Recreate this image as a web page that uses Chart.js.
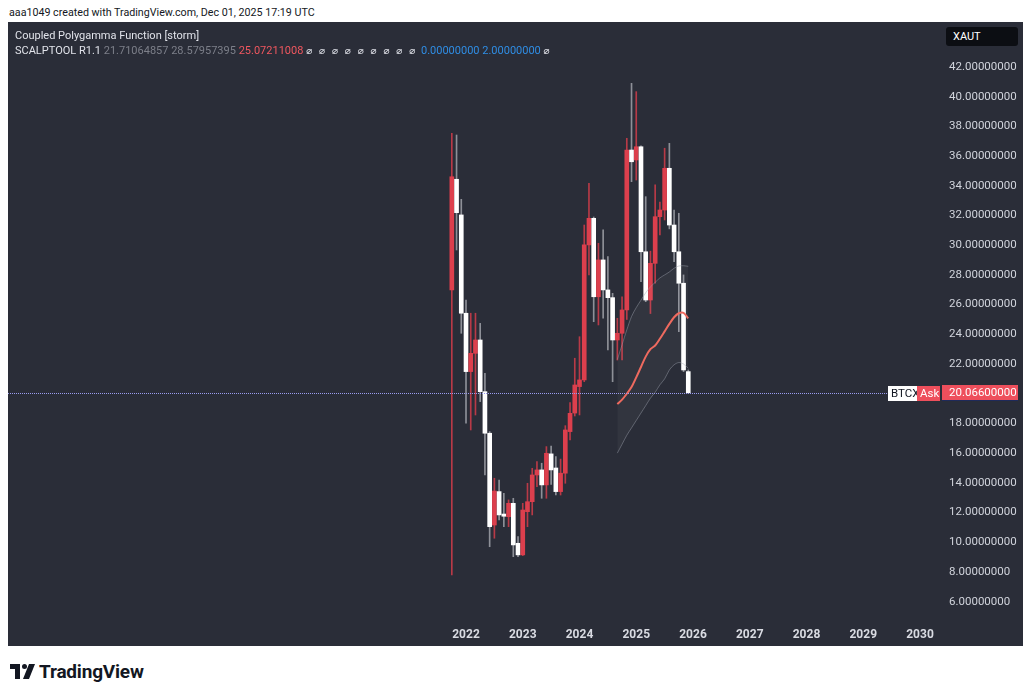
<!DOCTYPE html>
<html lang="en">
  <head>
    <meta charset="UTF-8" />
    <meta name="viewport" content="width=device-width, initial-scale=1.0" />
    <script src="https://cdn.jsdelivr.net/npm/chart.js@4.4.0/dist/chart.umd.min.js"></script>
    <title>XAUT monthly</title>
    <style>
      body {
        margin: 0;
        padding: 0;
        background: #ffffff;
        width: 1032px;
        height: 697px;
        position: relative;
        overflow: hidden;
        font-family: Roboto, 'Liberation Sans', sans-serif;
      }

      .header {
        position: absolute;
        left: 9px;
        top: 6px;
        font-size: 10.7px;
        color: #131722;
      }

      .panel {
        position: absolute;
        left: 8px;
        top: 22px;
        width: 1015px;
        height: 624px;
        background: #2a2d38;
      }

      .legend {
        position: absolute;
        left: 7px;
        top: 6px;
        font-size: 11px;
        line-height: 15px;
        color: #e1e3ea;
        white-space: nowrap;
      }
      .legend .g { color: #7c7f89; }
      .legend .r { color: #f0575f; }
      .legend .b { color: #2f8de4; }
      .legend .o {
        display: inline-block;
        width: 12.9px;
        font-family: 'DejaVu Sans', sans-serif;
        font-size: 10px;
      }
      .legend .o.e { width: 9px; }

      .symbol {
        position: absolute;
        left: 938px;
        top: 5px;
        width: 72px;
        height: 19px;
        line-height: 19px;
        border-radius: 3px;
        background: #0c0e13;
        color: #ffffff;
        font-size: 11px;
        padding-left: 7px;
        box-sizing: border-box;
      }

      .footer {
        position: absolute;
        left: 10px;
        top: 661px;
        height: 20px;
        display: flex;
        align-items: center;
        font-size: 19px;
        font-weight: bold;
        color: #131722;
        letter-spacing: -0.2px;
      }
      .footer svg { margin-right: 3px; }
    </style>
  </head>
  <body>
    <div class="header">aaa1049 created with TradingView.com, Dec 01, 2025 17:19 UTC</div>
    <div class="panel">
      <canvas id="chart" width="1015" height="624"></canvas>
      <div class="legend">
        <div>Coupled Polygamma Function [storm]</div>
        <div>SCALPTOOL R1.1 <span class="g">21.71064857</span> <span class="g">28.57957395</span>
          <span class="r">25.07211008</span>
          <span class="o">⌀</span><span class="o">⌀</span><span class="o">⌀</span><span class="o">⌀</span><span class="o">⌀</span><span class="o">⌀</span><span class="o">⌀</span><span class="o">⌀</span><span class="o e">⌀</span>
          <span class="b">0.00000000</span> <span class="b">2.00000000</span> <span class="o e">⌀</span></div>
      </div>
      <div class="symbol">XAUT</div>
    </div>
    <div class="footer">
      <svg width="26" height="15" viewBox="0 0 26 15">
        <path d="M0 0h10v15h-5v-10h-5z" fill="#131722" />
        <circle cx="14.5" cy="2.5" r="2.5" fill="#131722" />
        <path d="M19 0h6l-6 15h-6z" fill="#131722" />
      </svg>
      TradingView
    </div>
    <script>
      // monthly candles, Oct 2021 .. Dec 2025
      const months = [
        '2021-10', '2021-11', '2021-12',
        '2022-01', '2022-02', '2022-03', '2022-04', '2022-05', '2022-06',
        '2022-07', '2022-08', '2022-09', '2022-10', '2022-11', '2022-12',
        '2023-01', '2023-02', '2023-03', '2023-04', '2023-05', '2023-06',
        '2023-07', '2023-08', '2023-09', '2023-10', '2023-11', '2023-12',
        '2024-01', '2024-02', '2024-03', '2024-04', '2024-05', '2024-06',
        '2024-07', '2024-08', '2024-09', '2024-10', '2024-11', '2024-12',
        '2025-01', '2025-02', '2025-03', '2025-04', '2025-05', '2025-06',
        '2025-07', '2025-08', '2025-09', '2025-10', '2025-11', '2025-12',
      ]
      const open = [
        26.99, 34.44, 32.04,
        25.42, 21.49, 22.72, 23.62, 20.14, 17.34, 11.16, 13.41, 11.9, 11.72, 12.62, 9.93,
        9.15, 12.06, 12.73, 14.53, 14.87, 13.86, 15.95, 15.0, 13.41, 14.65, 17.45, 18.7,
        20.48, 20.93, 30.02, 31.81, 26.53, 29.01, 26.99, 26.47, 23.62, 24.07, 25.64, 36.41,
        35.74, 36.63, 29.56, 26.31, 28.78, 31.92, 32.37, 35.18, 31.36, 29.56, 27.44, 21.49,
      ]
      const high = [
        37.54, 37.42, 33.09,
        26.31, 25.42, 25.42, 24.74, 21.38, 17.45, 14.31, 14.19, 13.3, 12.85, 12.96, 10.38,
        12.62, 13.97, 14.98, 15.43, 15.32, 16.44, 16.48, 15.76, 15.6, 17.85, 19.4, 22.39,
        23.84, 31.36, 34.17, 31.9, 30.13, 31.03, 29.23, 26.76, 25.08, 26.53, 37.2, 40.9,
        40.34, 36.7, 33.27, 29.6, 34.06, 32.9, 36.53, 36.86, 32.37, 32.15, 28.0, 21.6,
      ]
      const low = [
        7.8, 29.68, 24.07,
        18.01, 17.56, 18.57, 19.47, 14.53, 9.7, 10.27, 11.5, 11.05, 11.05, 9.03, 9.03,
        9.1, 11.05, 11.84, 13.74, 12.96, 12.96, 13.9, 13.18, 13.18, 13.97, 16.89, 18.5,
        18.57, 20.81, 28.0, 24.85, 24.63, 25.08, 22.95, 20.81, 22.27, 22.27, 25.0, 34.28,
        34.39, 27.54, 26.2, 25.4, 27.44, 30.7, 31.7, 31.1, 28.9, 24.18, 21.49, 20.03,
      ]
      const close = [
        34.61, 32.19, 25.42,
        21.49, 22.72, 23.62, 20.14, 17.34, 11.05, 13.45, 11.84, 11.75, 12.62, 9.82, 9.15,
        12.17, 12.73, 14.53, 14.87, 13.86, 15.99, 14.87, 13.41, 14.65, 17.56, 18.68, 20.59,
        20.93, 30.02, 31.81, 26.53, 29.01, 26.99, 26.47, 23.62, 24.07, 25.64, 36.41, 35.62,
        36.63, 29.56, 26.31, 28.78, 31.92, 32.37, 35.18, 31.36, 29.56, 27.44, 21.6, 20.066,
      ]

      // SCALPTOOL bands, Sep 2024 .. Dec 2025
      const bandStart = '2024-09'
      const midLine = [19.3, 19.6, 20.0, 20.45, 21.1, 21.8, 22.5, 23.0, 23.25, 23.7, 24.2, 24.7, 25.15, 25.42, 25.45, 25.07]
      const upperBand = [22.3, 23.3, 24.3, 25.2, 25.8, 26.3, 26.8, 27.2, 27.5, 27.8, 28.0, 28.2, 28.45, 28.6, 28.62, 28.58]
      const lowerBand = [16.0, 16.6, 17.2, 17.7, 18.2, 18.7, 19.2, 19.7, 20.1, 20.6, 21.0, 21.6, 21.95, 22.1, 22.0, 21.71]

      const years = ['2022', '2023', '2024', '2025', '2026', '2027', '2028', '2029', '2030']
      const priceTicks = [6, 8, 10, 12, 14, 16, 18, 20, 22, 24, 26, 28, 30, 32, 34, 36, 38, 40, 42]
      const lastPrice = 20.066

      const UP = '#dc3f4d'
      const DOWN = '#ffffff'

      // month index relative to Jan 2022
      const monthIndex = (s) => {
        const [y, m] = s.split('-').map(Number)
        return (y - 2022) * 12 + (m - 1)
      }

      const xs = months.map(monthIndex)
      const isUp = close.map((c, i) => c >= open[i])
      const bodies = xs.map((x, i) => ({ x, y: [open[i], close[i]] }))
      const wicks = xs.map((x, i) => ({ x, y: [low[i], high[i]] }))
      const band0 = monthIndex(bandStart)
      const toPts = (arr) => arr.map((v, i) => ({ x: band0 + i, y: v }))

      const noPad = (axis) => {
        axis.paddingTop = 0
        axis.paddingBottom = 0
        axis.paddingLeft = 0
        axis.paddingRight = 0
      }

      const priceLine = {
        id: 'priceLine',
        afterDatasetsDraw(chart) {
          const { ctx, chartArea, scales } = chart
          const py = Math.round(scales.y.getPixelForValue(lastPrice)) + 0.5
          ctx.save()
          ctx.strokeStyle = '#9a9cf0'
          ctx.lineWidth = 1
          ctx.setLineDash([1, 1])
          ctx.beginPath()
          ctx.moveTo(chartArea.left, py)
          ctx.lineTo(chartArea.right - 52, py)
          ctx.stroke()
          ctx.restore()
        },
        afterDraw(chart) {
          const { ctx, chartArea, scales } = chart
          const py = Math.round(scales.y.getPixelForValue(lastPrice))
          const r = chartArea.right
          ctx.save()
          ctx.font = '11.5px Roboto, sans-serif'
          ctx.textBaseline = 'middle'
          // BTCX tag
          ctx.fillStyle = '#ffffff'
          ctx.fillRect(r - 52, py - 7, 29, 15)
          ctx.fillStyle = '#131722'
          ctx.fillText('BTCX', r - 49, py + 1)
          // Ask tag
          ctx.fillStyle = '#ee4f5c'
          ctx.fillRect(r - 23, py - 7, 23, 15)
          ctx.fillStyle = '#ffffff'
          ctx.fillText('Ask', r - 20, py + 1)
          // price tag
          ctx.fillStyle = '#ee4f5c'
          ctx.fillRect(r + 2, py - 8, 76, 16)
          ctx.fillStyle = '#1e2a5a'
          ctx.fillRect(r + 2, py + 7, 76, 1)
          ctx.fillStyle = '#ffffff'
          ctx.fillText(lastPrice.toFixed(8), r + 9, py)
          ctx.restore()
        },
      }

      const chart = new Chart(document.getElementById('chart'), {
        type: 'bar',
        data: {
          datasets: [
            {
              type: 'line',
              data: toPts(midLine),
              borderColor: '#ee6a5f',
              borderWidth: 2,
              pointRadius: 0,
              tension: 0.3,
              fill: false,
            },
            {
              type: 'line',
              data: toPts(upperBand),
              borderColor: 'rgba(160, 163, 175, 0.45)',
              borderWidth: 1,
              pointRadius: 0,
              tension: 0.3,
              fill: false,
            },
            {
              type: 'line',
              data: toPts(lowerBand),
              borderColor: 'rgba(160, 163, 175, 0.45)',
              borderWidth: 1,
              pointRadius: 0,
              tension: 0.3,
              fill: '-1',
              backgroundColor: 'rgba(255, 255, 255, 0.04)',
            },
            {
              data: bodies,
              backgroundColor: isUp.map((u) => (u ? UP : DOWN)),
              barThickness: 4,
              minBarLength: 1,
              grouped: false,
              borderSkipped: false,
            },
            {
              data: wicks,
              backgroundColor: isUp.map((u) => (u ? '#b83a47' : '#8e9098')),
              barThickness: 1,
              grouped: false,
              borderSkipped: false,
            },
          ],
        },
        options: {
          responsive: false,
          animation: false,
          layout: { padding: 0 },
          plugins: {
            legend: { display: false },
            tooltip: { enabled: false },
          },
          scales: {
            x: {
              type: 'linear',
              offset: false,
              min: -96.85,
              max: 100.23,
              grid: { display: false, drawTicks: false },
              border: { display: false },
              afterBuildTicks: (axis) => {
                axis.ticks = years.map((y) => ({ value: monthIndex(y + '-01') }))
              },
              afterFit: (axis) => {
                axis.height = 24
                noPad(axis)
              },
              ticks: {
                autoSkip: false,
                maxRotation: 0,
                padding: 6,
                color: '#d9dbe2',
                font: { family: 'Roboto', size: 12, weight: 'bold' },
                callback: (v) => years[Math.round(v / 12)],
              },
            },
            y: {
              position: 'right',
              min: 4.63,
              max: 45.03,
              grid: { display: false, drawTicks: false },
              border: { display: false },
              afterBuildTicks: (axis) => {
                axis.ticks = priceTicks.map((v) => ({ value: v }))
              },
              afterFit: (axis) => {
                axis.width = 83
                noPad(axis)
              },
              ticks: {
                padding: 9,
                color: '#d1d4dc',
                font: { family: 'Roboto', size: 11.5 },
                callback: (v) => Number(v).toFixed(8),
              },
            },
          },
        },
        plugins: [priceLine],
      })
    </script>
  </body>
</html>
